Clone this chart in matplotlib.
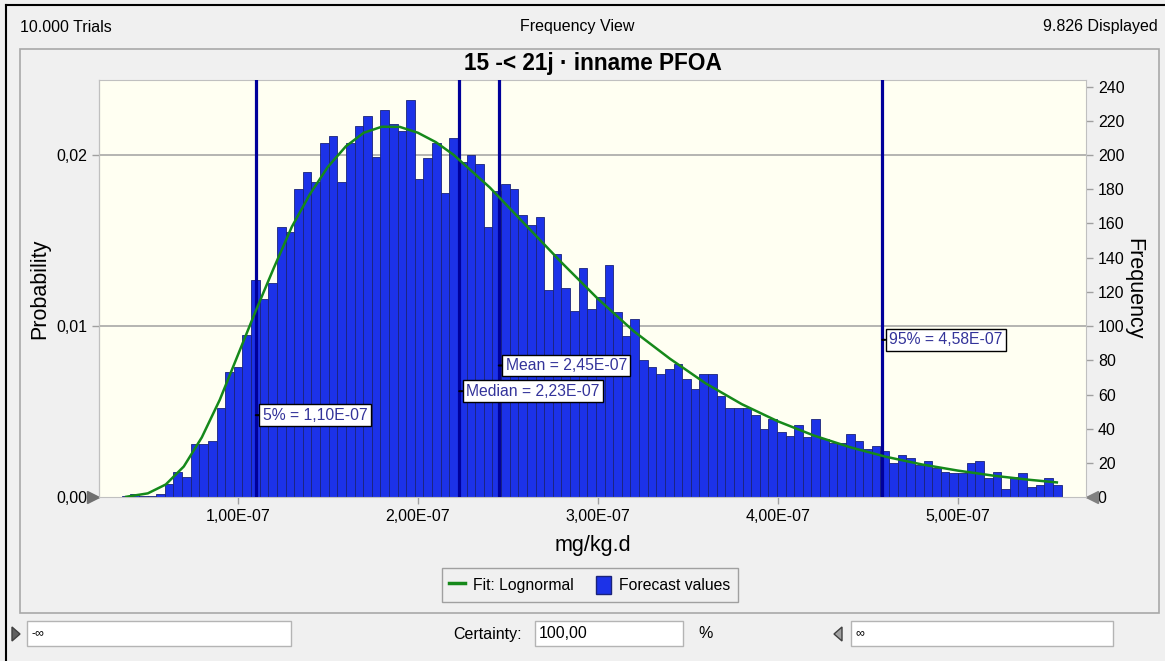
import matplotlib.pyplot as plt
from matplotlib.patches import Rectangle, Polygon, Patch
from matplotlib.lines import Line2D
from matplotlib.ticker import FuncFormatter

plt.rcParams['font.family'] = ['Liberation Sans', 'DejaVu Sans']

# data (x values in units of E-07 mg/kg.d)
trials = 10000
displayed = 9826
bin_start = 0.355
bin_width = 0.0479
freq = [1, 2, 1, 1, 2, 8, 15, 12, 31, 31, 33, 52, 73, 76, 95, 127, 116, 125, 158, 155,
        180, 190, 184, 207, 211, 184, 207, 217, 223, 199, 226, 218, 214, 232, 186,
        198, 207, 178, 210, 196, 200, 195, 158, 179, 183, 180, 165, 159, 164, 121,
        142, 122, 109, 134, 110,
        117, 136, 108, 94, 104, 80, 76, 72, 75, 78, 69, 63, 72, 72, 59, 52, 52, 52,
        48, 40, 46, 38, 36, 42, 35, 46, 34, 32, 32, 37, 33, 28, 30, 27, 20, 25, 23,
        19, 21, 17, 15, 14, 14, 20, 21, 11, 15, 5, 12, 14, 6, 7, 11, 7]

fit_x = [0.38, 0.5, 0.6, 0.7, 0.8, 0.9, 1.0, 1.1, 1.2, 1.3, 1.4, 1.5, 1.6, 1.7, 1.8,
         1.9, 2.0, 2.1, 2.2, 2.4, 2.6, 2.8, 3.0, 3.2, 3.4, 3.6, 3.8, 4.0, 4.2, 4.4,
         4.6, 4.8, 5.0, 5.2, 5.4, 5.55]
fit_freq = [0.3, 2.3, 7.5, 18, 35, 57, 83, 109, 134, 158, 177, 193, 205, 213, 216.5,
            216.4, 213, 207.5, 200, 181, 159, 137, 116, 97, 81, 66.5, 54.4, 44.4,
            36.1, 29.3, 23.7, 19.2, 15.6, 12.6, 10.2, 8.7]

stat_names = ['5%', 'Median', 'Mean', '95%']
stat_values = [1.10, 2.23, 2.45, 4.58]
label_heights = [48, 62, 77, 92]

x_ticks = [1, 2, 3, 4, 5]
freq_ticks = list(range(0, 241, 20))
prob_ticks = [0.0, 0.01, 0.02]

W, H = 1165, 661


def fx(x):
    return x / W


def fy(y):
    return 1 - y / H


def comma(v, digits):
    return f"{v:.{digits}f}".replace('.', ',')


bg = '#f0f0f0'
fig = plt.figure(figsize=(W / 100, H / 100), dpi=100, facecolor=bg)

# outer frame + panel
fig.add_artist(Line2D([fx(6), fx(6)], [fy(5), 0], color='black', lw=1.5))
fig.add_artist(Line2D([fx(6), 1], [fy(5), fy(5)], color='black', lw=1.5))
fig.add_artist(Rectangle((fx(20), fy(613)), fx(1159) - fx(20), fy(49) - fy(613),
                         transform=fig.transFigure, fill=False, edgecolor='#a8a8a8', lw=1.2))

fig.text(fx(20), fy(27), f"{trials:,} Trials".replace(',', '.'), fontsize=11.5, va='center')
fig.text(fx(577), fy(27), 'Frequency View', fontsize=11.5, va='center', ha='center')
fig.text(fx(1158), fy(27), f"{displayed:,} Displayed".replace(',', '.'), fontsize=11.5,
         va='center', ha='right')

ax = fig.add_axes([fx(99), fy(497.3), fx(1086) - fx(99), fy(80) - fy(497.3)])
ax.set_facecolor('#fffff2')

lefts = [bin_start + i * bin_width for i in range(len(freq))]
ax.bar(lefts, freq, width=bin_width, align='edge', color='#1c32e8',
       edgecolor='#1a237a', linewidth=0.6, zorder=2)

for p in prob_ticks[1:]:
    ax.axhline(p * trials, color='#a0a0a0', lw=1.1, zorder=1)

ax.plot(fit_x, fit_freq, color='#15891a', lw=1.8, zorder=4)

for name, val, hy in zip(stat_names, stat_values, label_heights):
    ax.axvline(val, color='#00009a', lw=2.3, zorder=3)
    ax.annotate(f"{name} = {comma(val, 2)}E-07", xy=(val, hy), xytext=(5, 0),
                textcoords='offset points', ha='left', va='center', fontsize=11.3,
                color='#33339a', zorder=6,
                bbox=dict(boxstyle='square,pad=0.22', fc='white', ec='black', lw=1),
                arrowprops=dict(arrowstyle='-', color='black', lw=1.5,
                                shrinkA=0, shrinkB=0))

ax.set_xlim(0.2289, 5.712)
ax.set_ylim(0, 243.8)

ax.set_xticks(x_ticks)
ax.xaxis.set_major_formatter(FuncFormatter(lambda v, p: comma(v, 2) + 'E-07'))
ax.set_xlabel('mg/kg.d', fontsize=15.5, labelpad=8)

ax.yaxis.tick_right()
ax.yaxis.set_label_position('right')
ax.set_yticks(freq_ticks)
ax.set_ylabel('Frequency', fontsize=15.5, rotation=270, labelpad=14)
ax.tick_params(axis='both', labelsize=11.5, color='#a0a0a0', length=5, width=1,
               colors='#a0a0a0', labelcolor='black')

sec = ax.secondary_yaxis('left', functions=(lambda f: f / trials, lambda p: p * trials))
sec.set_yticks(prob_ticks)
sec.yaxis.set_major_formatter(FuncFormatter(lambda v, p: comma(v, 2)))
sec.tick_params(labelsize=11.5, color='#a0a0a0', length=5, width=1, labelcolor='black')
sec.set_ylabel('Probability', fontsize=15.5, labelpad=4)
sec.spines['left'].set_color('#a8a8a8')

for s in ax.spines.values():
    s.set_color('#c0c0c0')

# end markers on the axis
ax.plot([-0.0065], [0], marker='>', ms=9, color='#707070', transform=ax.transAxes, clip_on=False)
ax.plot([1.0065], [0], marker='<', ms=9, color='#808080', transform=ax.transAxes, clip_on=False)

ax.set_title('15 -< 21j · inname PFOA', fontsize=16.3, fontweight='bold', pad=7)

handles = [Line2D([], [], color='#15891a', lw=2.5),
           Patch(facecolor='#1c32e8', edgecolor='#1a237a')]
fig.legend(handles, ['Fit: Lognormal', 'Forecast values'], loc='center',
           bbox_to_anchor=(fx(590), fy(585)), ncol=2, fontsize=11.3,
           frameon=True, fancybox=False, edgecolor='#a0a0a0', facecolor=bg,
           framealpha=1, handlelength=1.0, handleheight=1.4, columnspacing=1.4,
           handletextpad=0.5, borderpad=0.5, borderaxespad=0)

# bottom controls
def box(x0, x1, txt, fs=9):
    fig.add_artist(Rectangle((fx(x0), fy(646)), fx(x1) - fx(x0), fy(621) - fy(646),
                             transform=fig.transFigure, fc='white', ec='#b4b4b4', lw=1))
    fig.text(fx(x0 + 4), fy(633.5), txt, fontsize=fs, va='center')


box(27, 291, '-∞')
box(535, 683, '100,00', fs=11.5)
box(851, 1113, '∞')
fig.text(fx(522), fy(634), 'Certainty:', fontsize=11.5, va='center', ha='right')
fig.text(fx(698), fy(634), '%', fontsize=11.5, va='center')
fig.add_artist(Polygon([[fx(12), fy(627)], [fx(12), fy(641)], [fx(20), fy(634)]],
                       closed=True, transform=fig.transFigure, fc='#606060', ec='#404040'))
fig.add_artist(Polygon([[fx(842), fy(627)], [fx(842), fy(641)], [fx(834), fy(634)]],
                       closed=True, transform=fig.transFigure, fc='#a0a0a0', ec='#404040'))

fig.savefig('out.png', dpi=100, facecolor=bg)
